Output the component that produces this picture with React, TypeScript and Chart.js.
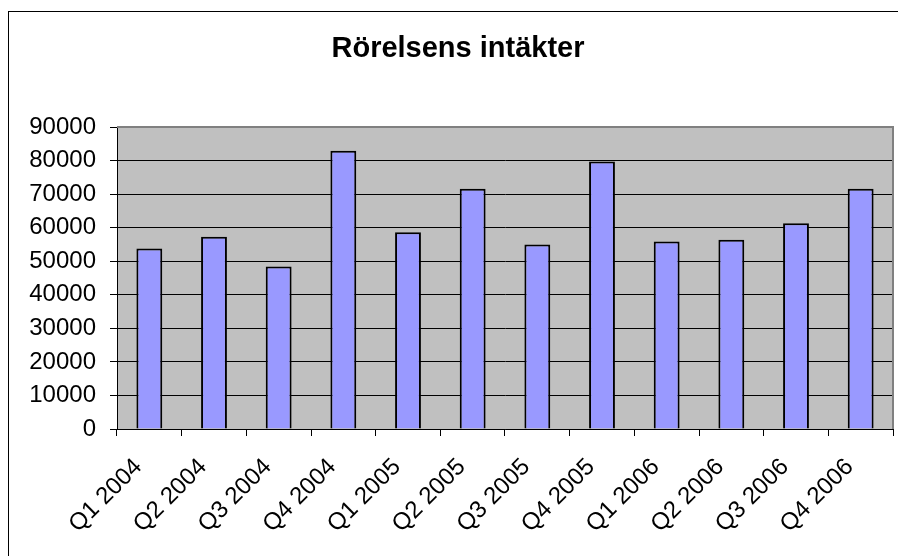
import React, { useEffect, useRef } from "react";
import { Chart, registerables } from "chart.js";

Chart.register(...registerables);

const categories = [
  "Q1 2004", "Q2 2004", "Q3 2004", "Q4 2004",
  "Q1 2005", "Q2 2005", "Q3 2005", "Q4 2005",
  "Q1 2006", "Q2 2006", "Q3 2006", "Q4 2006",
];
const revenue = [53800, 57300, 48400, 82900, 58600, 71600, 55000, 79700, 55900, 56400, 61300, 71600];
const chartTitle = "Rörelsens intäkter";
const yMin = 0;
const yMax = 90000;
const yStep = 10000;

const FONT = '"Liberation Sans", Arial, sans-serif';

export default function App() {
  const ref = useRef<HTMLCanvasElement | null>(null);

  useEffect(() => {
    if (!ref.current) return;
    const framePlugin = {
      id: "frame",
      beforeDraw(chart: any) {
        const { ctx, chartArea: a } = chart;
        ctx.save();
        ctx.fillStyle = "#C0C0C0";
        ctx.fillRect(a.left, a.top, a.right - a.left, a.bottom - a.top);
        ctx.restore();
      },
      afterDraw(chart: any) {
        const { ctx, chartArea: a } = chart;
        ctx.save();
        ctx.strokeStyle = "#808080";
        ctx.lineWidth = 2;
        ctx.beginPath();
        ctx.moveTo(Math.round(a.left), Math.round(a.top));
        ctx.lineTo(Math.round(a.right), Math.round(a.top));
        ctx.lineTo(Math.round(a.right), Math.round(a.bottom));
        ctx.stroke();
        ctx.fillStyle = "#000";
        ctx.font = `bold 29px ${FONT}`;
        ctx.textAlign = "center";
        ctx.textBaseline = "alphabetic";
        ctx.fillText(chartTitle, 458, 57);
        ctx.restore();
      },
    };

    const chart = new Chart(ref.current, {
      type: "bar",
      data: {
        labels: categories,
        datasets: [
          {
            data: revenue,
            backgroundColor: "#9999FF",
            borderColor: "#000000",
            borderWidth: 2,
            categoryPercentage: 1,
            barPercentage: 0.4,
          },
        ],
      },
      options: {
        responsive: false,
        animation: false,
        devicePixelRatio: 1,
        layout: { padding: { top: 127, right: 23, left: 0, bottom: 0 } },
        plugins: {
          legend: { display: false },
          title: { display: false },
          tooltip: { enabled: false },
        },
        scales: {
          x: {
            type: "category",
            offset: true,
            afterFit: (s: any) => { s.height = 127; },
            grid: {
              offset: true,
              drawOnChartArea: false,
              drawTicks: true,
              tickLength: 7,
              color: "#000",
            },
            border: { color: "#000", width: 1 },
            ticks: {
              color: "#000",
              font: { family: FONT, size: 24 },
              minRotation: 45,
              maxRotation: 45,
              autoSkip: false,
              padding: 17,
              labelOffset: -11,
            },
          },
          y: {
            min: yMin,
            max: yMax,
            afterFit: (s: any) => { s.width = 117; },
            grid: {
              color: "#000",
              lineWidth: 1,
              tickLength: 7,
              drawTicks: true,
            },
            border: { color: "#000", width: 1 },
            ticks: {
              stepSize: yStep,
              color: "#000",
              font: { family: FONT, size: 24 },
              padding: 14,
              callback: (v: any) => String(v),
            },
          },
        },
      },
      plugins: [framePlugin],
    } as any);
    return () => chart.destroy();
  }, []);

  return (
    <div style={{ position: "absolute", left: 0, top: 0, width: 898, height: 556, overflow: "hidden", background: "#fff" }}>
      <canvas ref={ref} width={916} height={556} style={{ position: "absolute", left: 0, top: 0 }} />
      <div style={{ position: "absolute", left: 8, top: 11, width: 900, height: 600, border: "1px solid #000", boxSizing: "border-box", pointerEvents: "none" }} />
    </div>
  );
}
